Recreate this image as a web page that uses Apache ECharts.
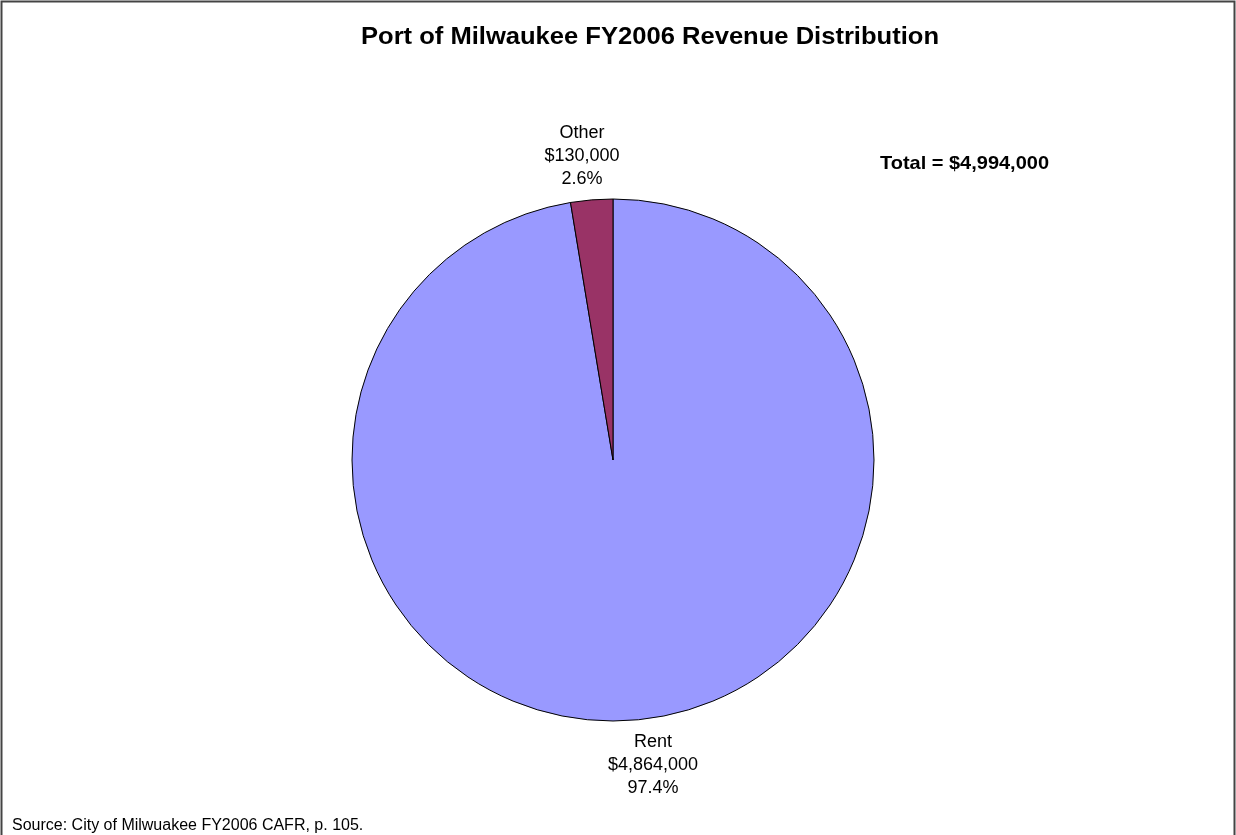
<!DOCTYPE html>
<html lang="en">
<head>
    <title>Port of Milwaukee revenue</title>
    <meta charset="utf-8">
    <style>
        body { margin: 0; background: #fff; }
    </style>
</head>
<body>
<script type="text/javascript" src="https://cdn.jsdelivr.net/npm/echarts@6/dist/echarts.min.js"></script>
<div id="main" style="width: 1236px;height: 835px"></div>
<script type="text/javascript">
    var categories = ['Rent', 'Other'];
    var values = [4864000, 130000];
    var percents = ['97.4%', '2.6%'];
    var colors = ['#9999FF', '#993366'];
    // where each label sits (centre of the text block)
    var labelPos = [[653, 765], [582, 156]];

    var FONT = 'Liberation Sans, Arial, sans-serif';

    var fmt = function (v) {
        return '$' + v.toString().replace(/\B(?=(\d{3})+(?!\d))/g, ',');
    };

    var data = [];
    for (var i = 0; i < categories.length; i++) {
        data.push({
            name: categories[i],
            value: values[i],
            pct: percents[i],
            itemStyle: { color: colors[i] }
        });
    }

    var myChart = echarts.init(document.getElementById('main'));
    var option = {
        animation: false,
        backgroundColor: '#fff',
        graphic: [{
            type: 'rect',
            shape: { x: 1.5, y: 1.5, width: 1233, height: 900 },
            style: { fill: null, stroke: '#444', lineWidth: 2 },
            silent: true
        }, {
            // title, stretched a little to match the wide original lettering
            type: 'text',
            x: 650,
            y: 37,
            scaleX: 1.065,
            style: {
                text: 'Port of Milwaukee FY2006 Revenue Distribution',
                font: 'bold 24px ' + FONT,
                fill: '#000',
                align: 'center',
                verticalAlign: 'middle'
            }
        }, {
            type: 'text',
            x: 880,
            y: 164,
            scaleX: 1.08,
            style: {
                text: 'Total = $4,994,000',
                font: 'bold 18.5px ' + FONT,
                fill: '#000',
                align: 'left',
                verticalAlign: 'middle'
            }
        }, {
            type: 'text',
            x: 12,
            y: 826,
            style: {
                text: 'Source: City of Milwuakee FY2006 CAFR, p. 105.',
                font: '16px ' + FONT,
                fill: '#000',
                align: 'left',
                verticalAlign: 'middle'
            }
        }],
        series: [{
            type: 'pie',
            center: [613, 460],
            radius: [0, 261],
            startAngle: 90,
            clockwise: true,
            itemStyle: { borderColor: '#000', borderWidth: 1 },
            emphasis: { disabled: true },
            label: {
                show: true,
                position: 'outside',
                fontFamily: FONT,
                fontSize: 18,
                lineHeight: 23,
                color: '#000',
                formatter: function (p) {
                    return p.name + '\n' + fmt(p.value) + '\n' + p.data.pct;
                }
            },
            labelLine: { show: false },
            labelLayout: function (params) {
                var pos = labelPos[params.dataIndex];
                return { x: pos[0], y: pos[1], align: 'center', verticalAlign: 'middle' };
            },
            data: data
        }]
    };
    myChart.setOption(option);
</script>
</body>
</html>
